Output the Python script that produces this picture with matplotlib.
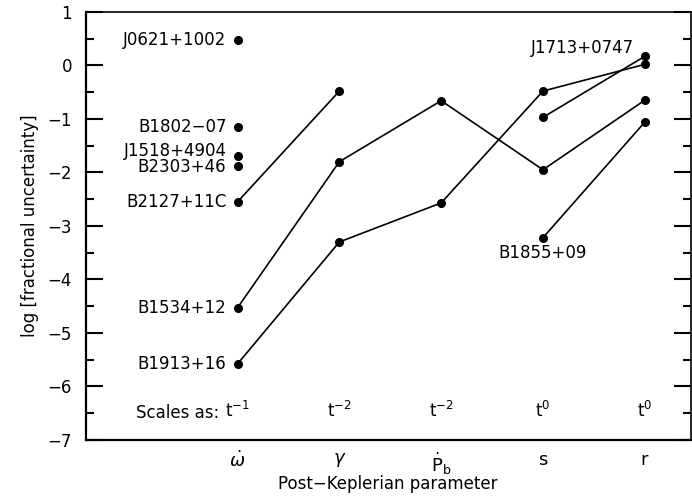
import matplotlib.pyplot as plt
from matplotlib.ticker import MultipleLocator

# post-Keplerian parameters (x positions 1..5)
params = [r'$\dot{\omega}$', r'$\gamma$', r'$\dot{\mathrm{P}}_\mathrm{b}$', r'$\mathrm{s}$', r'$\mathrm{r}$']
scales = [r'$\mathrm{t}^{-1}$', r'$\mathrm{t}^{-2}$', r'$\mathrm{t}^{-2}$', r'$\mathrm{t}^{0}$', r'$\mathrm{t}^{0}$']

# single omega-dot measurements (labelled on the left)
single_names = ['J0621+1002', 'B1802\u221207', 'J1518+4904', 'B2303+46']
single_vals = [0.48, -1.16, -1.70, -1.88]
single_dy = [0, 0, 4, -1]  # label nudges, points

# pulsars with several measured parameters: (name, x indices, values)
b2127_x = [1, 2]
b2127_y = [-2.55, -0.48]
b1534_x = [1, 2, 3, 4, 5]
b1534_y = [-4.53, -1.80, -0.66, -1.95, -0.65]
b1913_x = [1, 2, 3, 4, 5]
b1913_y = [-5.58, -3.30, -2.57, -0.48, 0.02]
j1713_x = [4, 5]
j1713_y = [-0.97, 0.17]
b1855_x = [4, 5]
b1855_y = [-3.22, -1.06]

plt.rcParams['font.family'] = 'DejaVu Sans'
plt.rcParams['mathtext.fontset'] = 'dejavusans'

fig = plt.figure(figsize=(6.92, 4.96), dpi=100)
ax = fig.add_axes([0.124, 0.113, 0.874, 0.863])

for xs, ys in [(b2127_x, b2127_y), (b1534_x, b1534_y), (b1913_x, b1913_y),
               (j1713_x, j1713_y), (b1855_x, b1855_y)]:
    ax.plot(xs, ys, '-o', color='black', lw=1.2, ms=5.5)

ax.plot([1] * len(single_vals), single_vals, 'o', color='black', ms=5.5)

fs = 12
for name, v, dy in zip(single_names, single_vals, single_dy):
    ax.annotate(name, (1, v), xytext=(-8, dy), textcoords='offset points',
                ha='right', va='center', fontsize=fs)
ax.annotate('B2127+11C', (1, b2127_y[0]), xytext=(-8, 0), textcoords='offset points',
            ha='right', va='center', fontsize=fs)
ax.annotate('B1534+12', (1, b1534_y[0]), xytext=(-8, 0), textcoords='offset points',
            ha='right', va='center', fontsize=fs)
ax.annotate('B1913+16', (1, b1913_y[0]), xytext=(-8, 0), textcoords='offset points',
            ha='right', va='center', fontsize=fs)
ax.annotate('J1713+0747', (5, j1713_y[1]), xytext=(-8, 6), textcoords='offset points',
            ha='right', va='center', fontsize=fs)
ax.annotate('B1855+09', (4, b1855_y[0]), xytext=(0, -11), textcoords='offset points',
            ha='center', va='center', fontsize=fs)

# "scales as" row
ax.text(0.82, -6.5, 'Scales as:', ha='right', va='center', fontsize=fs)
for i, s in enumerate(scales):
    ax.text(i + 1, -6.45, s, ha='center', va='center', fontsize=fs)

ax.set_xlim(-0.49, 5.45)
ax.set_ylim(-7, 1)
ax.set_xticks(range(1, 6))
ax.set_xticklabels(params, fontsize=13)
ax.tick_params(axis='x', length=0, pad=8)
ax.yaxis.set_major_locator(MultipleLocator(1))
ax.yaxis.set_minor_locator(MultipleLocator(0.5))
ax.tick_params(axis='y', which='both', direction='in', left=True, right=True,
               width=1.5, labelsize=fs, pad=10)
ax.tick_params(axis='y', which='major', length=12)
ax.tick_params(axis='y', which='minor', length=6)

for side in ['left', 'bottom']:
    ax.spines[side].set_linewidth(1.6)
for side in ['top', 'right']:
    ax.spines[side].set_linewidth(1.2)

ax.set_xlabel('Post\u2212Keplerian parameter', fontsize=fs)
ax.xaxis.set_label_coords(0.5, -0.082)
ax.set_ylabel('log [fractional uncertainty]', fontsize=fs, labelpad=6)

fig.savefig('out.png', dpi=100)
